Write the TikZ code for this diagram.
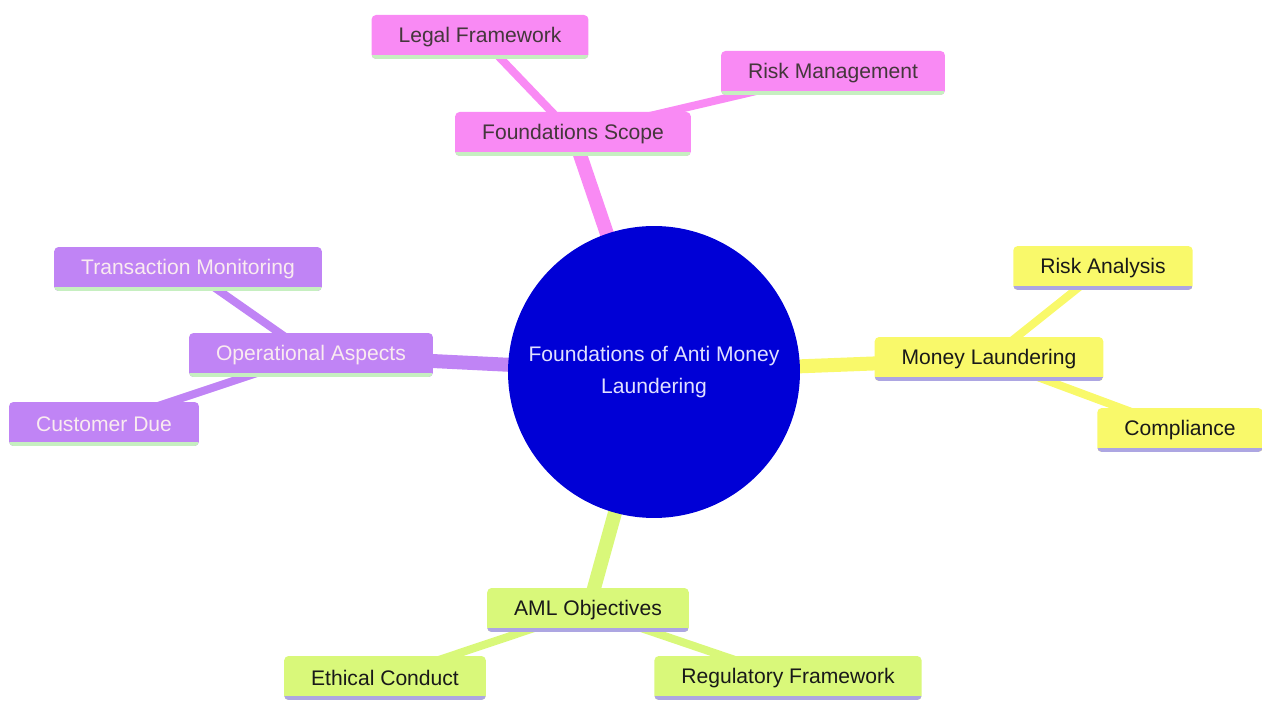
\documentclass[tikz,border=0pt]{standalone}
\usepackage{fontspec}
\setmainfont{Liberation Sans}
\usetikzlibrary{backgrounds}
\definecolor{pinkfill}{HTML}{F98AF4}
\definecolor{purplefill}{HTML}{C084F5}
\definecolor{yellowfill}{HTML}{F9F96A}
\definecolor{greenfill}{HTML}{D9F87A}
\definecolor{mintline}{HTML}{C6EFC0}
\definecolor{lavline}{HTML}{ADA6E2}
\definecolor{rootblue}{HTML}{0000D6}
\tikzset{
	topic/.style 2 args={draw=none, fill=#1, rounded corners=2.5pt, minimum height=0.88cm, inner xsep=0.54cm,
		font=\fontsize{12}{14}\selectfont,
		path picture={\fill[#2, sharp corners] ([yshift=0.07cm]path picture bounding box.south west) rectangle (path picture bounding box.south east);}},
	rootline/.style={line width=0.28cm, color=#1},
	leafline/.style={line width=0.16cm, color=#1},
}

\begin{document}
\begin{tikzpicture}[x=0.02cm, y=-0.02cm]
		%%%%% START %%%%%
		\useasboundingbox (0, 0) rectangle (1262, 702);
		
		\node[circle, fill=rootblue, minimum size=5.84cm, align=center, text=white!88!blue,
			font=\fontsize{12}{18}\selectfont] (root) at (654, 372) {Foundations of Anti Money\\Laundering};
		
		% pink branch
		\node[topic={pinkfill}{mintline}, text=black!85!magenta] (scope) at (573, 134) {Foundations Scope};
		\node[topic={pinkfill}{mintline}, text=black!85!magenta] (legal) at (480, 37) {Legal Framework};
		\node[topic={pinkfill}{mintline}, text=black!85!magenta] (riskmgmt) at (833, 73) {Risk Management};
		
		% purple branch
		\node[topic={purplefill}{mintline}, text=white!92!purple] (ops) at (311, 355) {Operational Aspects};
		\node[topic={purplefill}{mintline}, text=white!92!purple] (monitor) at (188, 269) {Transaction Monitoring};
		\node[topic={purplefill}{mintline}, text=white!92!purple] (due) at (104, 424) {Customer Due};
		
		% yellow branch
		\node[topic={yellowfill}{lavline}, text=black!90] (laundering) at (989, 359) {Money Laundering};
		\node[topic={yellowfill}{lavline}, text=black!90] (analysis) at (1103, 268) {Risk Analysis};
		\node[topic={yellowfill}{lavline}, text=black!90] (compliance) at (1180, 430) {Compliance};
		
		% green branch
		\node[topic={greenfill}{lavline}, text=black!90] (aml) at (588, 610) {AML Objectives};
		\node[topic={greenfill}{lavline}, text=black!90] (ethics) at (385, 678) {Ethical Conduct};
		\node[topic={greenfill}{lavline}, text=black!90] (regulatory) at (788, 678) {Regulatory Framework};
		
		\begin{scope}[on background layer]
			\draw[rootline=pinkfill] (root.center) -- (scope.center);
			\draw[rootline=purplefill] (root.center) -- (ops.center);
			\draw[rootline=yellowfill] (root.center) -- (laundering.center);
			\draw[rootline=greenfill] (root.center) -- (aml.center);
			
			\draw[leafline=pinkfill] (scope.center) -- (legal.center);
			\draw[leafline=pinkfill] (scope.center) -- (riskmgmt.center);
			\draw[leafline=purplefill] (ops.center) -- (monitor.center);
			\draw[leafline=purplefill] (ops.center) -- (due.center);
			\draw[leafline=yellowfill] (laundering.center) -- (analysis.center);
			\draw[leafline=yellowfill] (laundering.center) -- (compliance.center);
			\draw[leafline=greenfill] (aml.center) -- (ethics.center);
			\draw[leafline=greenfill] (aml.center) -- (regulatory.center);
		\end{scope}
		%%%%% END %%%%%
	\end{tikzpicture}
\end{document}
